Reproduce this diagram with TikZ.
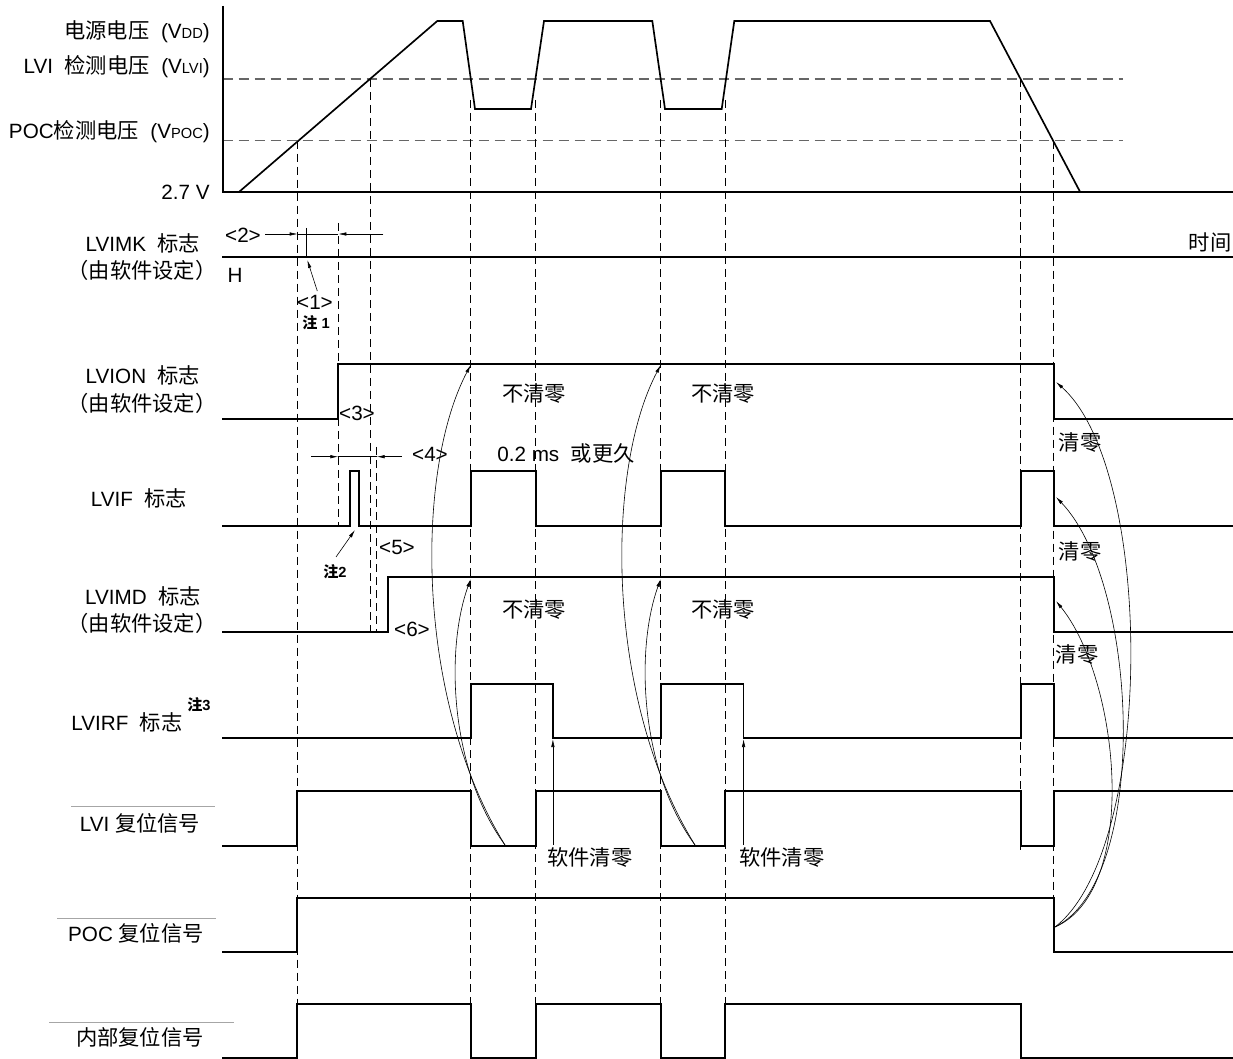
\documentclass[tikz,border=0pt]{standalone}
\usepackage{fontspec}
\setmainfont{Liberation Sans}
\newfontfamily\cjk[Scale=1.03]{Noto Sans CJK SC}
\usepackage{tikz}
\usetikzlibrary{arrows.meta}
\newcommand{\zh}[1]{{\cjk #1}}
\newcommand{\lowcap}[1]{{\fontsize{11}{12}\selectfont #1}}

\begin{document}
\begin{tikzpicture}[
  x=0.75pt, y=-0.75pt,
  font=\fontsize{15.5}{18}\selectfont,
  sig/.style={line width=1.25pt},
  guide/.style={dash pattern=on 6pt off 3.75pt, line width=0.5pt},
  level/.style={black!60, dash pattern=on 7.5pt off 4.5pt, line width=1pt},
  lbl/.style={inner sep=0pt},
  note/.style={inner sep=0pt, font=\fontsize{11}{12}\selectfont\bfseries},
  cause/.style={-{Latex[length=6pt,width=2.6pt]}, line width=0.45pt},
  rule/.style={black!35, line width=0.5pt}
]
\useasboundingbox (0,0) rectangle (1233,1059);

% Supply voltage panel
\draw[level] (222.7,79) -- (1123,79);
\draw[level] (222.7,140.7) -- (1123,140.7);
\draw[sig] (222.7,6) -- (222.7,191.7) -- (1233,191.7);
\draw[sig] (239.3,191.7) -- (437.3,21) -- (462.7,21) -- (475,109) -- (531,109) -- (544,21)
  -- (652.3,21) -- (665,109) -- (721.7,109) -- (734.3,21) -- (990,21) -- (1080,191.7);

\node[lbl, anchor=east] (vdd)  at (210,32)  {\zh{电源电压}~ (V\lowcap{DD})};
\node[lbl, anchor=east] (vlvi) at (210,67)  {LVI~ \zh{检测电压}~ (V\lowcap{LVI})};
\node[lbl, anchor=east] (vpoc) at (210,132) {POC\zh{检测电压}~ (V\lowcap{POC})};
\node[lbl, anchor=east] (vmin) at (210,192) {2.7 V};

% Timing guides
\draw[guide] (297.3,140.7) -- (297.3,1059);
\draw[guide] (338.3,223) -- (338.3,526);
\draw[guide] (370,79) -- (370,632);
\draw[guide] (376.7,447) -- (376.7,632);
\draw[guide] (470.7,100) -- (470.7,1057);
\draw[guide] (535.7,100) -- (535.7,1057);
\draw[guide] (660.7,100) -- (660.7,1057);
\draw[guide] (725.3,100) -- (725.3,1057);
\draw[guide] (1020.7,79) -- (1020.7,850);
\draw[guide] (1053.7,140.7) -- (1053.7,930);

% Waveforms
\draw[sig] (222,256.7) -- (1233,256.7);
\draw[sig] (222,419) -- (338.3,419) -- (338.3,364) -- (1053.7,364) -- (1053.7,419) -- (1233,419);
\draw[sig] (222,525.7) -- (350,525.7) -- (350,471) -- (359,471) -- (359,525.7)
  -- (470.7,525.7) -- (470.7,471) -- (535.7,471) -- (535.7,525.7)
  -- (660.7,525.7) -- (660.7,471) -- (725.3,471) -- (725.3,525.7)
  -- (1020.7,525.7) -- (1020.7,471) -- (1053.7,471) -- (1053.7,525.7) -- (1233,525.7);
\draw[sig] (222,632.3) -- (387.7,632.3) -- (387.7,577.3) -- (1053.7,577.3) -- (1053.7,632.3) -- (1233,632.3);
\draw[sig] (222,738.3) -- (470.7,738.3) -- (470.7,684) -- (552.9,684) -- (552.9,738.3)
  -- (660.7,738.3) -- (660.7,684) -- (743.6,684) -- (743.6,738.3)
  -- (1020.7,738.3) -- (1020.7,684) -- (1053.7,684) -- (1053.7,738.3) -- (1233,738.3);
\draw[sig] (222,845.7) -- (297.3,845.7) -- (297.3,791) -- (470.7,791) -- (470.7,845.7)
  -- (535.7,845.7) -- (535.7,791) -- (660.7,791) -- (660.7,845.7)
  -- (725.3,845.7) -- (725.3,791) -- (1020.7,791) -- (1020.7,845.7)
  -- (1053.7,845.7) -- (1053.7,791) -- (1233,791);
\draw[sig] (222,952.3) -- (297.3,952.3) -- (297.3,897.7) -- (1053.7,897.7) -- (1053.7,952.3) -- (1233,952.3);
\draw[sig] (222,1057.7) -- (297.3,1057.7) -- (297.3,1004) -- (470.7,1004) -- (470.7,1057.7)
  -- (535.7,1057.7) -- (535.7,1004) -- (660.7,1004) -- (660.7,1057.7)
  -- (725.3,1057.7) -- (725.3,1004) -- (1020.7,1004) -- (1020.7,1057.7) -- (1233,1057.7);

% Signal names
\node[lbl] (mk)    at (143,243)  {LVIMK~ \zh{标志}};
\node[lbl] (mksw)  at (142,270)  {\zh{（由软件设定）}};
\node[lbl] (on)    at (143,375)  {LVION~ \zh{标志}};
\node[lbl] (onsw)  at (142,403)  {\zh{（由软件设定）}};
\node[lbl] (lvif)  at (139,498)  {LVIF~ \zh{标志}};
\node[lbl] (md)    at (143,596)  {LVIMD~ \zh{标志}};
\node[lbl] (mdsw)  at (142,623)  {\zh{（由软件设定）}};
\node[lbl] (rf)    at (127,722)  {LVIRF~ \zh{标志}};
\node[note] (nt3)  at (199,705)  {\zh{注}3};
\node[lbl] (lvirst) at (140,823) {LVI \zh{复位信号}};
\node[lbl] (pocrst) at (136,933) {POC \zh{复位信号}};
\node[lbl] (intrst) at (140,1037) {\zh{内部复位信号}};
\draw[rule] (71,806) -- (215,806);
\draw[rule] (57,918) -- (216,918);
\draw[rule] (49,1022) -- (234,1022);
\node[lbl] (lvlh) at (235,275) {H};
\node[lbl] (time) at (1210,242) {\zh{时间}};

% Interval marks
\coordinate (d2a) at (265,234);
\coordinate (d2b) at (297.7,234);
\coordinate (d2c) at (338.3,234);
\coordinate (d2d) at (383.3,234);
\draw[cause] (d2a) -- (d2b);
\draw[cause] (d2d) -- (d2c);
\draw[line width=0.45pt] (d2b) -- (d2c);
\draw[line width=0.45pt] (306,228) -- (306,256.7);
\node[lbl] (st2) at (243,235) {<2>};
\node[lbl] (st1) at (315,302) {<1>};
\node[note] (nt1) at (316,323) {\zh{注} 1};
\coordinate (nt1a) at (317.3,291);
\coordinate (nt1b) at (307.3,260);
\draw[cause] (nt1a) -- (nt1b);

\node[lbl] (st3) at (357,413) {<3>};
\coordinate (d4a) at (311,456.7);
\coordinate (d4b) at (338.3,456.7);
\coordinate (d4c) at (376.7,456.7);
\coordinate (d4d) at (401.7,456.7);
\draw[cause] (d4a) -- (d4b);
\draw[cause] (d4d) -- (d4c);
\draw[line width=0.45pt] (d4b) -- (d4c);
\node[lbl] (st4) at (430,454) {<4>};
\node[lbl] (wait) at (566,453) {0.2 ms~ \zh{或更久}};
\node[lbl] (st5) at (397,547) {<5>};
\node[note] (nt2) at (335,572) {\zh{注}2};
\coordinate (nt2a) at (336,557);
\coordinate (nt2b) at (355,530);
\draw[cause] (nt2a) -- (nt2b);
\node[lbl] (st6) at (412,629) {<6>};

% Flag states
\node[lbl] (keep1) at (534,393) {\zh{不清零}};
\node[lbl] (keep2) at (723,393) {\zh{不清零}};
\node[lbl] (keep3) at (534,609) {\zh{不清零}};
\node[lbl] (keep4) at (723,609) {\zh{不清零}};
\node[lbl] (clr1) at (1080,442) {\zh{清零}};
\node[lbl] (clr2) at (1080,551) {\zh{清零}};
\node[lbl] (clr3) at (1077,654) {\zh{清零}};
\node[lbl, anchor=west] (sw1) at (547,857) {\zh{软件清零}};
\node[lbl, anchor=west] (sw2) at (739,857) {\zh{软件清零}};

% Cause arrows
\coordinate (sw1b) at (552.9,845);
\coordinate (sw1t) at (552.9,739);
\coordinate (sw2b) at (743.6,845);
\coordinate (sw2t) at (743.6,739);
\draw[cause] (sw1b) -- (sw1t);
\draw[cause] (sw2b) -- (sw2t);

\coordinate (rst1) at (505,845);
\coordinate (rst2) at (695,845);
\coordinate (on1) at (470.7,365);
\coordinate (on2) at (660.7,365);
\coordinate (md1) at (470.7,579);
\coordinate (md2) at (660.7,579);
\draw[cause] (rst1) .. controls (415,700) and (415,470) .. (on1);
\draw[cause] (rst1) .. controls (450,770) and (445,650) .. (md1);
\draw[cause] (rst2) .. controls (605,700) and (605,470) .. (on2);
\draw[cause] (rst2) .. controls (640,770) and (635,650) .. (md2);

\coordinate (pocf) at (1055,927);
\coordinate (onclr) at (1056,382);
\coordinate (ifclr) at (1056,497);
\coordinate (mdclr) at (1056,601);
\draw[cause] (pocf) .. controls (1155,850) and (1155,470) .. (onclr);
\draw[cause] (pocf) .. controls (1150,880) and (1140,585) .. (ifclr);
\draw[cause] (pocf) .. controls (1140,890) and (1120,680) .. (mdclr);

\end{tikzpicture}
\end{document}
